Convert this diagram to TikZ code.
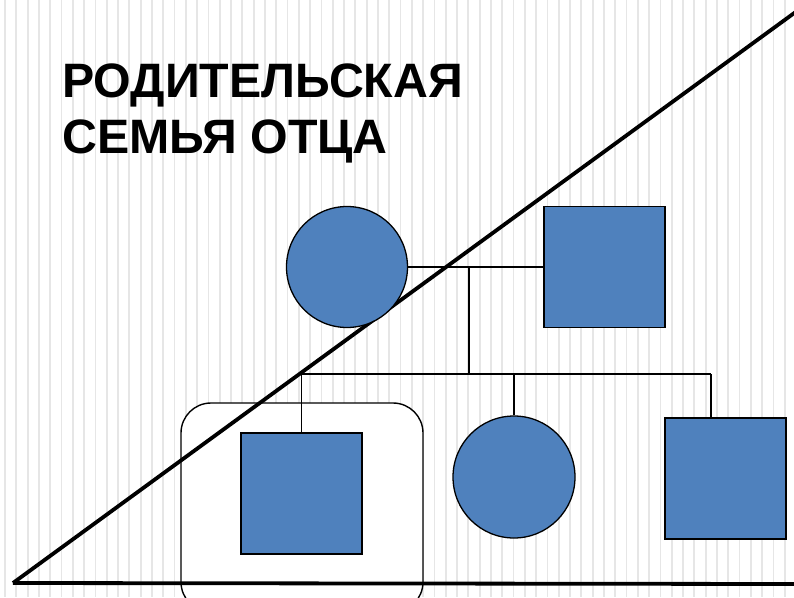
\documentclass[tikz,border=0pt]{standalone}
\usepackage{fontspec}
\setmainfont{Liberation Sans}
\definecolor{fillblue}{HTML}{4F81BD}
\definecolor{stripe}{HTML}{E6E6E6}
\begin{document}
\begin{tikzpicture}[x=1pt,y=-1pt,
  shapebox/.style={draw=black,line width=1.3pt,fill=fillblue},
  link/.style={draw=black,line width=1.4pt},
  thick line/.style={draw=black,line width=3.8pt},
  titletext/.style={font=\fontsize{48.3}{57}\selectfont\bfseries,anchor=base west,inner sep=0pt}]
\useasboundingbox (0,0) rectangle (794,597);
\fill[white] (0,0) rectangle (794,597);
\foreach \i in {0,...,70} {
  \draw[stripe,line width=1.8pt] ({5+11.3*\i},0) -- ({5+11.3*\i},597);
}
% title
\node[titletext] (t1) at (62,97) {РОДИТЕЛЬСКАЯ};
\node[titletext] (t2) at (62,153) {СЕМЬЯ ОТЦА};
% rounded box around the index person
\draw[fill=white,line width=1.4pt,rounded corners=30pt] (181,403) rectangle (423,612);
% diagonal and base line
\coordinate (dA) at (13,583);
\coordinate (dB) at (797,11);
\coordinate (bR) at (797,584);
\draw[thick line] (dA) -- (dB);
\draw[thick line] (dA) -- (bR);
% parents
\node[shapebox,circle,minimum size=121pt,inner sep=0pt] (mother) at (347,267) {};
\node[shapebox,rectangle,minimum size=121pt,inner sep=0pt] (father) at (604.5,267) {};
% children
\node[shapebox,rectangle,minimum size=121pt,inner sep=0pt] (child1) at (301.5,493.5) {};
\node[shapebox,circle,minimum size=122pt,inner sep=0pt] (child2) at (514,477) {};
\node[shapebox,rectangle,minimum size=121pt,inner sep=0pt] (child3) at (725.5,478.5) {};
% connectors
\coordinate (m) at (469,267);
\coordinate (s) at (469,374);
\coordinate (s1) at (301.5,374);
\coordinate (s2) at (514,374);
\coordinate (s3) at (711,374);
\draw[link] (mother.east) -- (father.west);
\draw[link] (m) -- (s);
\draw[link] (s1) -- (s3);
\draw[link] (s1) -- (child1.north);
\draw[link] (s2) -- (child2.north);
\draw[link] (s3) -- (s3 |- child3.north);
\end{tikzpicture}
\end{document}
